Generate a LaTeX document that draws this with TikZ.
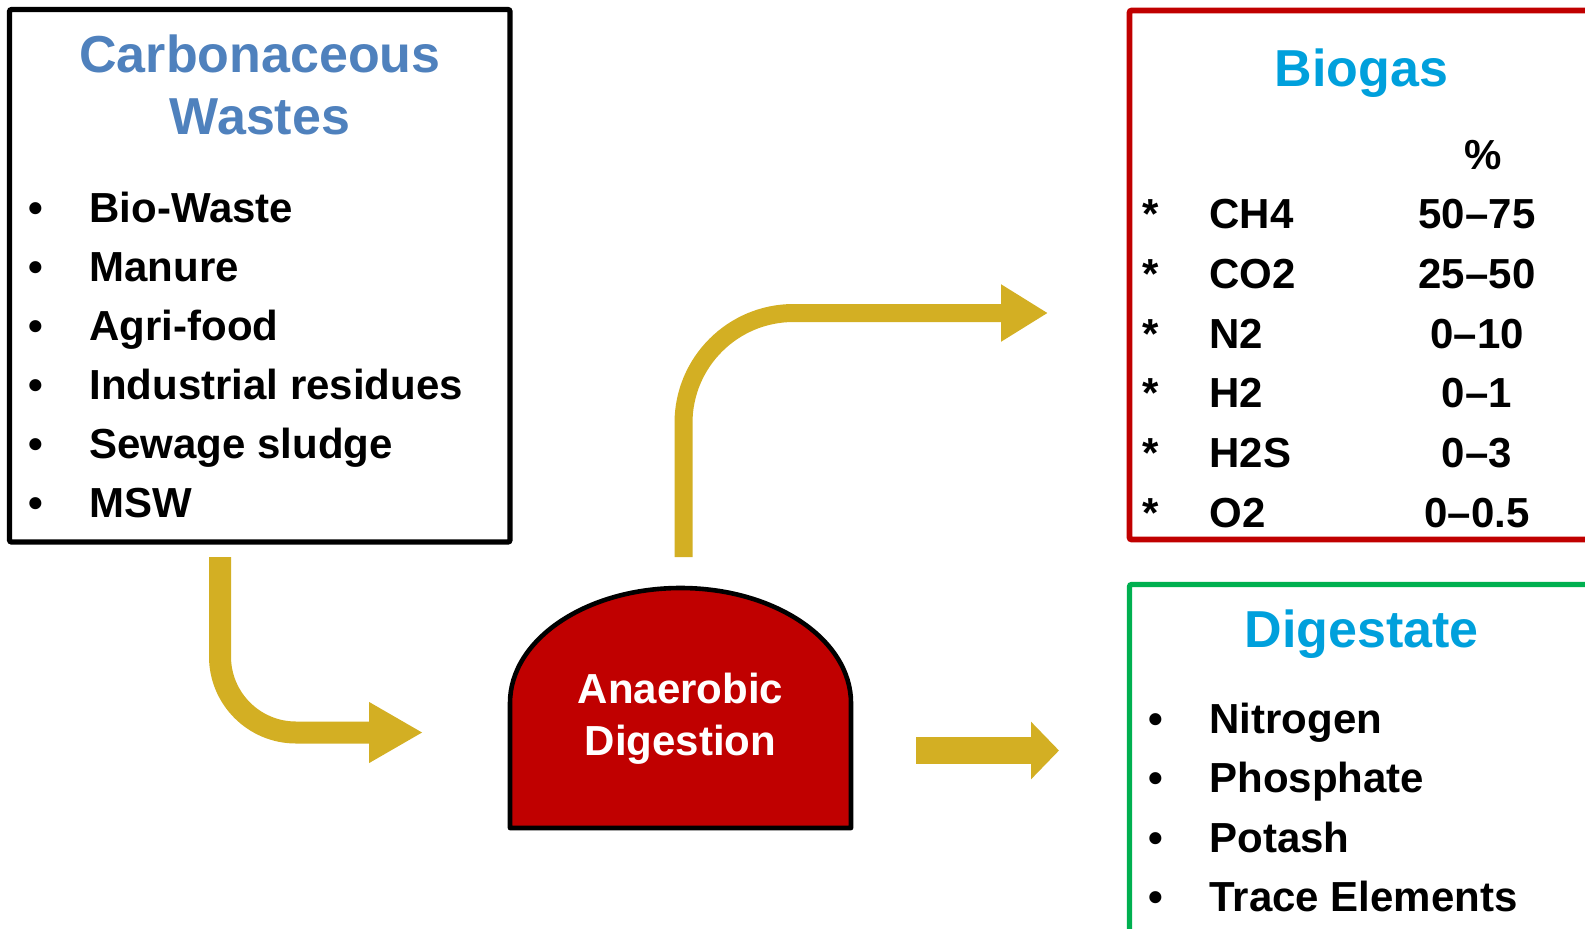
\documentclass[tikz,border=0pt]{standalone}
\usepackage{fontspec}
\setmainfont{Liberation Sans}
\usetikzlibrary{arrows.meta,positioning}
\definecolor{feedgold}{RGB}{211,175,35}
\definecolor{digred}{RGB}{192,0,0}
\definecolor{boxgreen}{RGB}{0,176,80}
\definecolor{wasteblue}{RGB}{79,129,189}
\definecolor{gascyan}{RGB}{0,160,220}
\tikzset{
  txt/.style={inner sep=0pt, font=\fontsize{21}{26}\selectfont\bfseries},
  item/.style={txt, anchor=base west},
  dot/.style={txt, anchor=base},
  head/.style={inner sep=0pt, anchor=base, font=\fontsize{26}{31}\selectfont\bfseries},
  frame/.style={draw, line width=2.6pt, rounded corners=1pt, inner sep=0pt},
  feed/.style={draw=feedgold, line width=#1},
}

\begin{document}
\begin{tikzpicture}[x=0.5pt,y=-0.5pt]
\useasboundingbox (0,0) rectangle (1585,928);
\clip (0,0) rectangle (1585,928);

% boxes
\node[frame, minimum width=250.25pt, minimum height=266.25pt] (wastes) at (259.75,275.75) {};
\node[frame, draw=digred, line width=2.8pt, minimum width=285.25pt, minimum height=264.5pt] (biogas) at (1414.75,275) {};
\node[frame, draw=boxgreen, minimum width=285.25pt, minimum height=207.75pt] (digestate) at (1414.75,792.25) {};

% wastes
\node[head, wasteblue] (wt1) at (260,72) {Carbonaceous};
\node[head, wasteblue] (wt2) at (260,134) {Wastes};
\foreach \t [count=\i from 0] in {Bio-Waste, Manure, Agri-food, Industrial residues, Sewage sludge, MSW} {
  \node[dot] (wd\i) at (36,{222.4+59*\i}) {•};
  \node[item] (wi\i) at (89,{222.4+59*\i}) {\t};
}

% biogas
\node[head, gascyan] (bt) at (1361.5,86) {Biogas};
\node[dot] (pc) at (1483,169) {\%};
\foreach \g/\v [count=\i from 0] in {CH4/50–75, CO2/25–50, N2/0–10, H2/0–1, H2S/0–3, O2/0–0.5} {
  \node[dot] (bs\i) at (1151,{228.5+59.8*\i}) {*};
  \node[item] (bg\i) at (1209,{228.5+59.8*\i}) {\g};
  \node[dot] (bv\i) at (1477,{228.5+59.8*\i}) {\v};
}

% digestate
\node[head, gascyan] (dt) at (1361.5,647.5) {Digestate};
\foreach \t [count=\i from 0] in {Nitrogen, Phosphate, Potash, Trace Elements} {
  \node[dot] (dd\i) at (1155.5,{733+59.6*\i}) {•};
  \node[item] (di\i) at (1209,{733+59.6*\i}) {\t};
}

% digester
\draw[fill=digred, line width=2.3pt, line join=round]
  (510,828) -- (510,703) arc (180:0:85.25pt and 57.5pt) -- (851,828) -- cycle;
\node[dot, white] (ad1) at (680.5,703) {Anaerobic};
\node[dot, white] (ad2) at (680.5,755) {Digestion};

% arrows
\coordinate (a1s) at (220,557);
\coordinate (a1e) at (423,732.5);
\coordinate (a2s) at (683.5,557);
\coordinate (a2e) at (1048,313);
\coordinate (a3s) at (916,750.5);
\coordinate (a3e) at (1059,750.5);
\draw[feed=11pt, -{Triangle[length=27pt 0 0, width=28.5pt 0 0]}, rounded corners=38pt] (a1s) |- (a1e);
\draw[feed=9pt, -{Triangle[length=23.5pt 0 0, width=27pt 0 0]}, rounded corners=55pt] (a2s) |- (a2e);
\draw[feed=13.75pt, -{Triangle[length=14pt 0 0, width=28pt 0 0]}] (a3s) -- (a3e);
\end{tikzpicture}
\end{document}
